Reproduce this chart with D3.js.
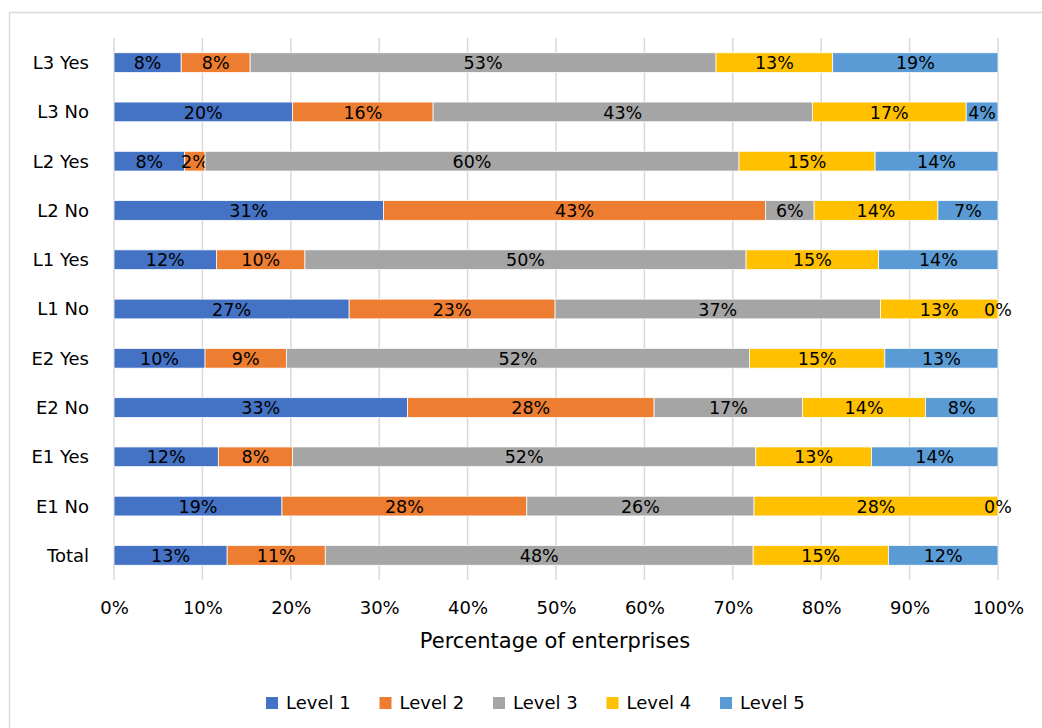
<!DOCTYPE html>
<html>
<head>
<meta charset="utf-8">
<script src="https://cdn.jsdelivr.net/npm/d3@7"></script>
<style>
  body { margin: 0; background: #fff; }
  svg { display: block; }
  .cat { font-family: "DejaVu Sans", sans-serif; font-size: 18px; fill: #000; }
  .val { font-family: "DejaVu Sans", sans-serif; font-size: 17.5px; fill: #000; }
  .tick text { font-family: "DejaVu Sans", sans-serif; font-size: 18px; fill: #000; }
  .title { font-family: "DejaVu Sans", sans-serif; font-size: 21px; fill: #000; }
  .leg { font-family: "DejaVu Sans", sans-serif; font-size: 18px; fill: #000; }
</style>
</head>
<body>
<div id="chart"></div>
<script>
// rows top to bottom
var categories = ['L3 Yes', 'L3 No', 'L2 Yes', 'L2 No', 'L1 Yes', 'L1 No', 'E2 Yes', 'E2 No', 'E1 Yes', 'E1 No', 'Total'];
var levels = ['Level 1', 'Level 2', 'Level 3', 'Level 4', 'Level 5'];
var colors = ['#4472C4', '#ED7D31', '#A5A5A5', '#FFC000', '#5B9BD5'];

var level1 = [7.6, 20.2, 8.0, 30.5, 11.6, 26.6, 10.3, 33.2, 11.8, 19.0, 12.8];
var level2 = [7.8, 15.9, 2.3, 43.2, 10.0, 23.3, 9.2, 27.9, 8.4, 27.7, 11.1];
var level3 = [52.7, 42.9, 60.4, 5.5, 49.9, 36.8, 52.4, 16.8, 52.4, 25.7, 48.4];
var level4 = [13.2, 17.4, 15.4, 14.0, 15.0, 13.3, 15.3, 13.9, 13.1, 27.6, 15.3];
var level5 = [18.7, 3.6, 13.9, 6.8, 13.5, 0, 12.8, 8.2, 14.3, 0, 12.4];

var ticks = [0, 0.1, 0.2, 0.3, 0.4, 0.5, 0.6, 0.7, 0.8, 0.9, 1];

var width = 1042, height = 728;
var margin = {top: 38, left: 114, right: 44, bottom: 148};

var series = [level1, level2, level3, level4, level5];
var rows = categories.map((c, i) => {
    var r = {cat: c};
    var tot = d3.sum(series, s => s[i]);
    levels.forEach((l, j) => r[l] = series[j][i] / tot);
    r.raw = series.map(s => s[i]);
    return r;
});

var stacked = d3.stack().keys(levels)(rows);

var svg = d3.select('#chart').append('svg')
    .attr('width', width)
    .attr('height', height);

// chart frame
svg.append('rect')
    .attr('x', 9.5).attr('y', 12.5)
    .attr('width', 1100).attr('height', 800)
    .attr('fill', 'none')
    .attr('stroke', '#d9d9d9')
    .attr('stroke-width', 1.5);

var x = d3.scaleLinear().domain([0, 1]).range([margin.left, width - margin.right]);
var y = d3.scaleBand().domain(categories)
    .range([margin.top, height - margin.bottom])
    .paddingInner(0.6).paddingOuter(0.3);

// gridlines
svg.append('g')
    .selectAll('line')
    .data(ticks)
    .join('line')
    .attr('x1', d => x(d)).attr('x2', d => x(d))
    .attr('y1', margin.top).attr('y2', height - margin.bottom)
    .attr('stroke', '#d9d9d9')
    .attr('stroke-width', 1.5);

// x axis labels
var xAxis = svg.append('g')
    .attr('transform', `translate(0,${height - margin.bottom})`)
    .call(d3.axisBottom(x).tickValues(ticks).tickFormat(d3.format('.0%')).tickSize(0).tickPadding(21));
xAxis.select('.domain').remove();

// category labels
svg.append('g')
    .selectAll('text')
    .data(categories)
    .join('text')
    .attr('class', 'cat')
    .attr('x', 89)
    .attr('y', d => y(d) + y.bandwidth() / 2)
    .attr('dy', '0.36em')
    .attr('text-anchor', 'end')
    .text(d => d);

// bars
var groups = svg.append('g')
    .selectAll('g')
    .data(stacked)
    .join('g')
    .attr('fill', (d, i) => colors[i]);

groups.selectAll('rect')
    .data(d => d)
    .join('rect')
    .attr('x', d => x(d[0]))
    .attr('y', d => y(d.data.cat))
    .attr('width', d => x(d[1]) - x(d[0]))
    .attr('height', y.bandwidth())
    .attr('stroke', '#fff')
    .attr('stroke-width', 0.75);

// data labels
groups.each(function(s, j) {
    d3.select(this).selectAll('text')
        .data(s)
        .join('text')
        .attr('class', 'val')
        .attr('x', d => (x(d[0]) + x(d[1])) / 2)
        .attr('y', d => y(d.data.cat) + y.bandwidth() / 2)
        .attr('dy', '0.38em')
        .attr('text-anchor', 'middle')
        .text(d => Math.round(d.data.raw[j]) + '%');
});

// axis title
svg.append('text')
    .attr('class', 'title')
    .attr('x', 555)
    .attr('y', 648)
    .attr('text-anchor', 'middle')
    .text('Percentage of enterprises');

// legend
var leg = svg.append('g')
    .selectAll('g')
    .data(levels)
    .join('g')
    .attr('transform', (d, i) => `translate(${266 + i * 113.5},697)`);
leg.append('rect')
    .attr('width', 12).attr('height', 12)
    .attr('fill', (d, i) => colors[i]);
leg.append('text')
    .attr('class', 'leg')
    .attr('x', 20).attr('y', 6)
    .attr('dy', '0.36em')
    .text(d => d);
</script>
</body>
</html>
